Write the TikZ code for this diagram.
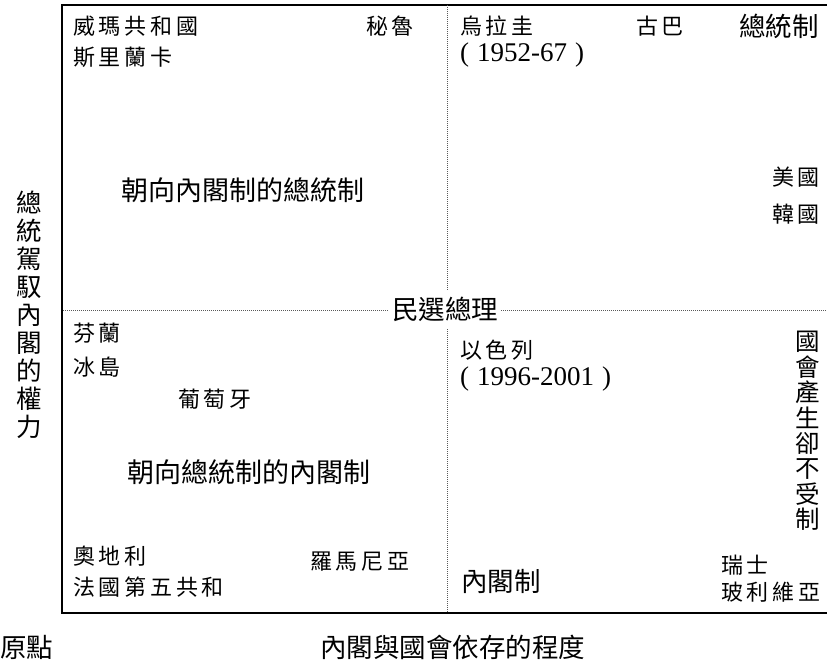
\documentclass[tikz,border=0pt]{standalone}
\usepackage{fontspec}
\setmainfont{Noto Sans CJK TC}
\newfontfamily\cjk{Noto Sans CJK TC}
\newfontfamily\cjkspaced[LetterSpace=17]{Noto Sans CJK TC}
\newfontfamily\tnr{Liberation Serif}
\tikzset{
  country/.style={anchor=west,inner sep=0pt,font=\cjkspaced\fontsize{22bp}{24bp}\selectfont},
  big/.style={anchor=west,inner sep=0pt,font=\cjk\fontsize{26.5bp}{28bp}\selectfont},
  years/.style={anchor=west,inner sep=0pt,font=\tnr\fontsize{27bp}{28bp}\selectfont},
  frame/.style={line width=2bp,black},
  divider/.style={line width=1bp,black!65,dash pattern=on 1bp off 1bp},
  vtext/.style={align=center,inner sep=0pt,font=\cjk\fontsize{25.5bp}{28bp}\selectfont}
}
\begin{document}
\begin{tikzpicture}[x=1bp,y=-1bp]
\useasboundingbox (0,0) rectangle (827,663);
% frame
\coordinate (tr) at (827,5);
\coordinate (tl) at (62,5);
\coordinate (bl) at (62,613);
\coordinate (br) at (827,613);
\draw[frame] (tr) -- (tl) -- (bl) -- (br);
% dividers
\coordinate (vt) at (447,5);
\coordinate (vb) at (447,612);
\coordinate (hl) at (63,310);
\coordinate (hr) at (827,310);
\draw[divider] (vt) -- (vb);
\draw[divider] (hl) -- (hr);
\node[fill=white,inner sep=0pt,minimum width=112bp,minimum height=38bp,font=\cjk\fontsize{26.5bp}{28bp}\selectfont] (pm) at (445,309) {民選總理};
% top-left quadrant
\node[country] (weimar) at (73,26) {威瑪共和國};
\node[country] (srilanka) at (73,57) {斯里蘭卡};
\node[country] (peru) at (366,26) {秘魯};
\node[big,font=\cjk\fontsize{27bp}{28bp}\selectfont] (q1) at (121,190) {朝向內閣制的總統制};
% top-right quadrant
\node[country] (uruguay) at (460,26) {烏拉圭};
\node[years] (uy) at (460,55) {(\hspace{8bp}1952-67\hspace{8bp})};
\node[country] (cuba) at (636,26) {古巴};
\node[big] (pres) at (739,26) {總統制};
\node[country] (usa) at (772,177) {美國};
\node[country] (korea) at (772,214) {韓國};
% bottom-left quadrant
\node[country] (finland) at (73,333) {芬蘭};
\node[country] (iceland) at (73,367) {冰島};
\node[country] (portugal) at (178,399) {葡萄牙};
\node[big,font=\cjk\fontsize{27bp}{28bp}\selectfont] (q3) at (127,472) {朝向總統制的內閣制};
\node[country] (austria) at (73,556) {奧地利};
\node[country] (france) at (73,587) {法國第五共和};
\node[country] (romania) at (310,562) {羅馬尼亞};
% bottom-right quadrant
\node[country] (israel) at (460,350) {以色列};
\node[years] (iy) at (460,379) {(\hspace{8bp}1996-2001\hspace{8bp})};
\node[big] (parl) at (461,581) {內閣制};
\node[country] (swiss) at (721,565) {瑞士};
\node[country] (bolivia) at (721,592) {玻利維亞};
\node[vtext,font=\cjk\fontsize{24.5bp}{25.4bp}\selectfont] (asm) at (808,431) {國\\會\\產\\生\\卻\\不\\受\\制};
% axes labels
\node[vtext] (yax) at (29,315) {總\\統\\駕\\馭\\內\\閣\\的\\權\\力};
\node[big] (origin) at (0,647) {原點};
\node[big] (xax) at (320,647) {內閣與國會依存的程度};
\end{tikzpicture}
\end{document}
